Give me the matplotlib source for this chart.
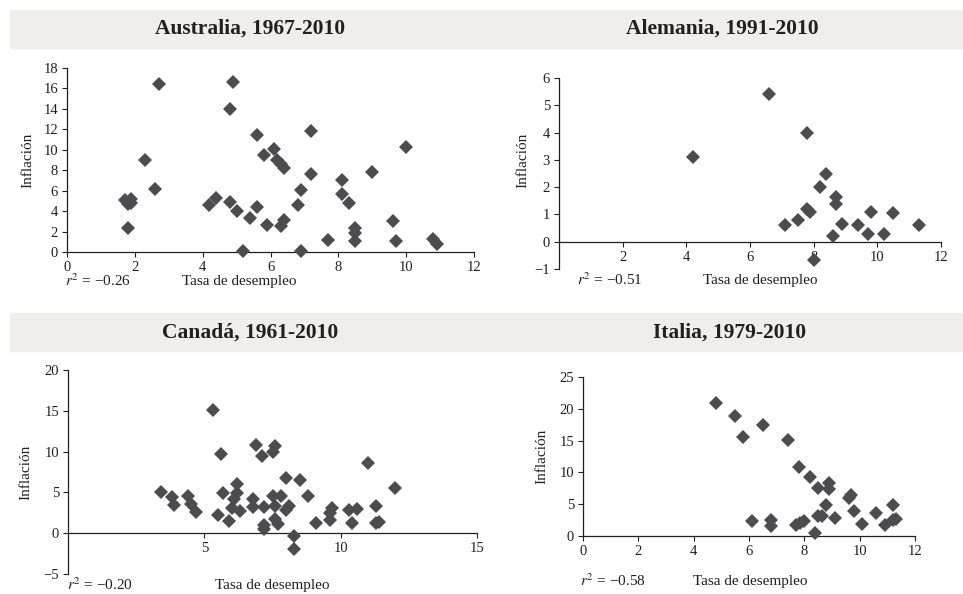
import matplotlib
matplotlib.use("Agg")
import matplotlib.pyplot as plt
from matplotlib.patches import Rectangle

plt.rcParams['font.family'] = ['Liberation Serif', 'DejaVu Serif']
plt.rcParams['mathtext.fontset'] = 'stix'

# Data (unemployment rate, inflation)
aus_u = [2.7, 4.9, 4.8, 5.6, 7.2, 6.1, 5.8, 10.0, 2.3, 6.2, 6.3, 6.4, 9.0, 7.2, 8.1,
         8.1, 8.3, 2.6, 6.9, 6.8, 1.7, 1.8, 1.9, 1.9, 1.8, 4.2, 4.4, 4.8, 5.0, 5.4,
         5.6, 5.2, 5.9, 6.3, 6.4, 6.9, 7.7, 8.5, 8.5, 8.5, 9.6, 9.7, 10.8, 10.9]
aus_p = [16.4, 16.6, 14.0, 11.4, 11.8, 10.1, 9.5, 10.3, 9.0, 9.0, 8.6, 8.2, 7.8, 7.6, 7.0,
         5.7, 4.8, 6.2, 6.1, 4.6, 5.1, 4.7, 5.2, 4.8, 2.3, 4.6, 5.3, 4.9, 4.0, 3.3,
         4.4, 0.1, 2.6, 2.5, 3.1, 0.1, 1.2, 2.3, 1.9, 1.1, 3.0, 1.1, 1.3, 0.8]

ale_u = [4.2, 6.6, 7.8, 8.4, 8.2, 8.7, 8.7, 7.8, 7.9, 7.5, 7.1, 8.6, 8.9, 9.4, 9.8,
         9.7, 10.2, 10.5, 11.3, 8.0]
ale_p = [3.1, 5.4, 4.0, 2.5, 2.0, 1.65, 1.4, 1.2, 1.1, 0.8, 0.6, 0.2, 0.65, 0.6, 1.1,
         0.27, 0.3, 1.07, 0.6, -0.68]

can_u = [3.4, 3.8, 3.9, 4.4, 4.5, 4.7, 5.3, 5.5, 5.6, 5.7, 5.9, 6.0, 6.1, 6.2, 6.2,
         6.3, 6.8, 6.8, 6.9, 7.1, 7.2, 7.2, 7.2, 7.5, 7.6, 7.5, 7.6, 7.6, 7.7, 7.8,
         8.0, 8.0, 8.1, 8.3, 8.3, 8.5, 8.8, 9.1, 9.6, 9.6, 9.7, 10.3, 10.4, 10.6, 11.0,
         11.3, 11.3, 11.4, 12.0]
can_p = [5.1, 4.4, 3.5, 4.6, 3.6, 2.6, 15.1, 2.2, 9.7, 4.9, 1.5, 3.1, 4.2, 4.9, 6.0,
         2.7, 4.2, 3.2, 10.8, 9.5, 3.2, 1.0, 0.5, 10.0, 10.7, 4.6, 3.3, 1.8, 1.1, 4.6,
         6.8, 2.9, 3.3, -0.4, -1.9, 6.5, 4.6, 1.2, 1.6, 2.5, 3.1, 2.9, 1.2, 3.0, 8.6,
         1.2, 3.3, 1.4, 5.5]

ita_u = [4.8, 5.5, 5.8, 6.5, 7.4, 7.8, 8.2, 8.5, 8.9, 8.9, 9.6, 9.7, 8.8, 6.1, 6.8,
         6.8, 7.7, 7.85, 8.0, 8.4, 8.5, 8.65, 9.1, 9.8, 10.1, 10.6, 10.9, 11.2, 11.2, 11.3]
ita_p = [20.9, 18.8, 15.5, 17.5, 15.1, 10.8, 9.2, 7.6, 8.4, 7.4, 5.9, 6.5, 4.9, 2.4, 2.5,
         1.6, 1.7, 2.1, 2.4, 0.4, 3.1, 3.2, 2.8, 3.9, 1.9, 3.6, 1.7, 4.8, 2.5, 2.7]

titles = ["Australia, 1967-2010", "Alemania, 1991-2010", "Canadá, 1961-2010", "Italia, 1979-2010"]
r2_labels = ["−0.26", "−0.51", "−0.20", "−0.58"]

W, H = 963, 594
fig = plt.figure(figsize=(W / 100, H / 100), dpi=100)


def px(x, y):
    return x / W, 1 - y / H


def box(x0, y0, x1, y1):
    return [x0 / W, 1 - y1 / H, (x1 - x0) / W, (y1 - y0) / H]


band = '#efeeec'
ink = '#231f20'
mk = '#4b4b50'

# title bands
for y0 in (10, 313):
    fig.patches.append(Rectangle(px(10, y0 + 38), (W - 10) / W, 38 / H,
                                 transform=fig.transFigure, color=band, zorder=0))

title_pos = [(250, 29), (722, 29), (250, 333), (730, 333)]
for t, (x, y) in zip(titles, title_pos):
    fig.text(*px(x, y), t, ha='center', va='center', fontsize=15.5,
             fontweight='bold', color=ink)

panels = [
    dict(u=aus_u, p=aus_p, rect=(67, 68, 474, 252), xlim=(0, 12), ylim=(0, 18),
         xt=range(0, 13, 2), yt=range(0, 19, 2)),
    dict(u=ale_u, p=ale_p, rect=(559, 78, 941, 269), xlim=(0, 12), ylim=(-1, 6),
         xt=range(2, 13, 2), yt=range(-1, 7)),
    dict(u=can_u, p=can_p, rect=(68, 370, 477, 574), xlim=(0, 15), ylim=(-5, 20),
         xt=[5, 10, 15], yt=range(-5, 21, 5)),
    dict(u=ita_u, p=ita_p, rect=(583, 377, 915, 536), xlim=(0, 12), ylim=(0, 25),
         xt=range(0, 13, 2), yt=range(0, 26, 5)),
]

for pn in panels:
    ax = fig.add_axes(box(*pn['rect']))
    ax.patch.set_alpha(0)
    ax.plot(pn['u'], pn['p'], linestyle='none', marker='D', markersize=7,
            color=mk, markeredgewidth=0, zorder=5, clip_on=False)
    ax.set_xlim(*pn['xlim'])
    ax.set_ylim(*pn['ylim'])
    ax.set_xticks(list(pn['xt']))
    ax.set_yticks(list(pn['yt']))
    ax.set_yticklabels([str(v).replace('-', '−') for v in pn['yt']])
    for s in ('top', 'right'):
        ax.spines[s].set_visible(False)
    ax.spines['bottom'].set_position(('data', 0))
    for s in ('left', 'bottom'):
        ax.spines[s].set_linewidth(0.9)
        ax.spines[s].set_color(ink)
    ax.tick_params(direction='out', length=3.5, width=0.8, colors=ink,
                   labelsize=10.5, pad=3)

# axis labels and r^2 notes
ylab_pos = [(28, 160), (523, 160), (26, 472), (542, 456)]
xlab_pos = [(239, 281), (760, 280), (272, 585), (750, 581)]
r2_pos = [(65, 281), (577, 280), (67, 585), (580, 581)]
for i in range(4):
    fig.text(*px(*ylab_pos[i]), "Inflación", rotation=90, ha='center', va='center',
             fontsize=11, color=ink)
    fig.text(*px(*xlab_pos[i]), "Tasa de desempleo", ha='center', va='center',
             fontsize=11, color=ink)
    fig.text(*px(*r2_pos[i]), r"$r^2$ = " + r2_labels[i], ha='left', va='center',
             fontsize=11, color=ink)

fig.savefig("out.png", dpi=100)
